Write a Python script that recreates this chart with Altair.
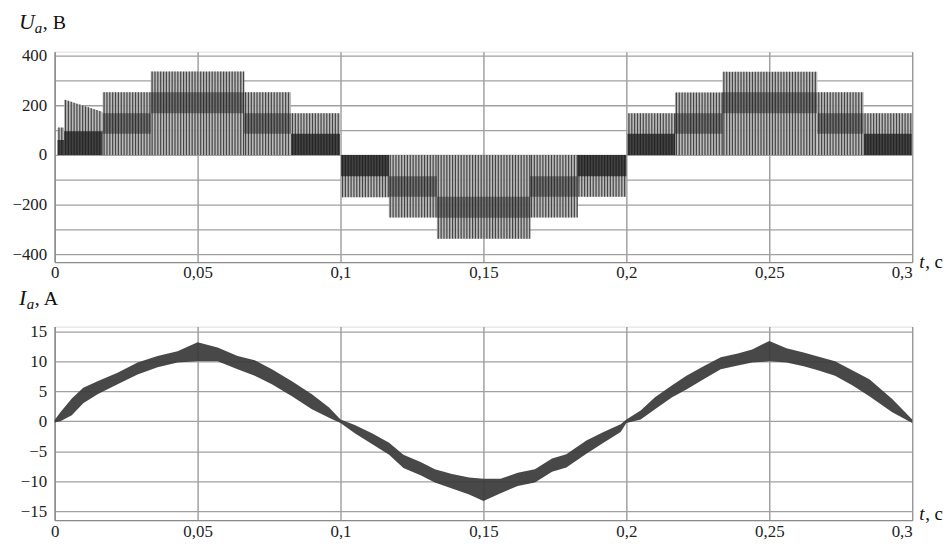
import altair as alt
import numpy as np
import pandas as pd

# ---------------- data ----------------
# Voltage U_a: PWM segments (start, end, upper level at start/end, dense switching band)
seg_t0 = [0.0010, 0.0033, 0.0168, 0.0336, 0.0663, 0.0827, 0.1002, 0.1169, 0.1337, 0.1663, 0.1829,
          0.2004, 0.2170, 0.2336, 0.2668, 0.2830]
seg_t1 = [0.0033, 0.0168, 0.0336, 0.0663, 0.0827, 0.0998, 0.1169, 0.1337, 0.1663, 0.1829, 0.2000,
          0.2170, 0.2336, 0.2668, 0.2830, 0.2998]
seg_top_a = [110, 223, 252, 335, 252, 168, -170, -251, -336, -251, -168, 168, 251, 334, 252, 168]
seg_top_b = [110, 173, 252, 335, 252, 168, -170, -251, -336, -251, -168, 168, 251, 334, 252, 168]
band_a = [0, 0, 85, 168, 85, 0, 0, -85, -168, -85, 0, 0, 85, 168, 85, 0]
band_b = [60, 95, 168, 252, 168, 85, -85, -168, -252, -168, -85, 85, 168, 252, 168, 85]
PULSE_PERIOD = 0.001  # carrier period read from the stripe spacing

# Current I_a: ripple envelope
i_t = [0.000, 0.002, 0.006, 0.010, 0.015, 0.022, 0.029, 0.036, 0.043, 0.050, 0.057, 0.064, 0.070,
       0.076, 0.083, 0.090, 0.096, 0.100,
       0.105, 0.111, 0.117, 0.122, 0.128, 0.133, 0.139, 0.145, 0.150, 0.156, 0.162, 0.168, 0.174,
       0.179, 0.186, 0.192, 0.198, 0.200,
       0.205, 0.210, 0.216, 0.221, 0.227, 0.233, 0.239, 0.244, 0.250, 0.256, 0.262, 0.267, 0.273,
       0.279, 0.285, 0.293, 0.300]
i_upper = [0.2, 1.5, 3.8, 5.6, 6.7, 8.1, 9.8, 10.9, 11.7, 13.2, 12.3, 10.9, 10.2,
           8.7, 6.7, 4.5, 2.3, 0.3,
           -0.6, -2.0, -3.6, -5.6, -6.8, -8.0, -8.8, -9.4, -9.6, -9.6, -8.6, -8.0, -6.2,
           -5.5, -3.2, -1.8, -0.5, 0.3,
           1.8, 4.0, 6.0, 7.6, 9.2, 10.7, 11.3, 12.0, 13.4, 12.2, 11.5, 10.8, 10.0,
           8.5, 7.0, 3.7, 0.3]
i_lower = [-0.2, 0.0, 1.0, 3.0, 4.5, 6.2, 7.8, 9.0, 9.8, 10.0, 10.0, 8.7, 7.6,
           6.2, 4.2, 2.0, 0.6, -0.3,
           -2.0, -3.8, -5.6, -7.8, -9.0, -10.2, -11.2, -12.2, -13.3, -12.0, -10.8, -10.2, -8.4,
           -7.7, -5.4, -3.6, -1.8, -0.3,
           0.3, 2.0, 4.0, 5.3, 7.0, 8.7, 9.3, 9.8, 10.0, 9.8, 9.2, 8.5, 7.6,
           6.0, 4.2, 1.5, -0.3]

x_ticks = [0, 0.05, 0.1, 0.15, 0.2, 0.25, 0.3]
u_ticks = [-400, -300, -200, -100, 0, 100, 200, 300, 400]
i_ticks = [-15, -10, -5, 0, 5, 10, 15]

# ---------------- tables ----------------
seg_df = pd.DataFrame({"seg": range(len(seg_t0)), "t0": seg_t0, "t1": seg_t1,
                       "ta": seg_top_a, "tb": seg_top_b, "ba": band_a, "bb": band_b})
env_rows = []
for s, a, b, ya, yb in zip(seg_df.seg, seg_t0, seg_t1, seg_top_a, seg_top_b):
    env_rows.append({"seg": int(s), "t": a, "u": ya})
    env_rows.append({"seg": int(s), "t": b, "u": yb})
env_df = pd.DataFrame(env_rows)

pulse_rows = []
for a, b, ya, yb in zip(seg_t0, seg_t1, seg_top_a, seg_top_b):
    for tt in np.arange(a + PULSE_PERIOD / 2, b, PULSE_PERIOD):
        pulse_rows.append({"t": float(tt), "u": float(ya + (yb - ya) * (tt - a) / (b - a))})
pulse_df = pd.DataFrame(pulse_rows)

cur_df = pd.DataFrame({"t": i_t, "hi": i_upper, "lo": i_lower})

# ---------------- styling ----------------
W = 864
H1, H2 = 212, 195
FONT = "Liberation Serif"
LBL = 17

xscale = alt.Scale(domain=[0, 0.3], nice=False, zero=False)
xaxis = alt.Axis(values=x_ticks, grid=True, ticks=False, title=None,
                 labelExpr="replace(format(datum.value, '.2~f'), '.', ',')",
                 labelAlign=alt.condition("datum.value > 0.29", alt.value("right"), alt.value("center")),
                 labelFont=FONT, labelFontSize=LBL, labelColor="#222", labelPadding=3,
                 gridColor="#8a8a8a", gridWidth=1.2, domainColor="#8a8a8a", domainWidth=1.2)

uscale = alt.Scale(domain=[-430, 415], nice=False, zero=False)
uaxis = alt.Axis(values=u_ticks, grid=True, ticks=False, title=None,
                 labelExpr="datum.value % 200 == 0 ? datum.label : ''",
                 labelFont=FONT, labelFontSize=LBL, labelColor="#222", labelPadding=8,
                 gridColor="#a0a0a0", gridWidth=1.3, domainColor="#8a8a8a", domainWidth=1.2)

iscale = alt.Scale(domain=[-16.5, 15.8], nice=False, zero=False)
iaxis = alt.Axis(values=i_ticks, grid=True, ticks=False, title=None,
                 labelFont=FONT, labelFontSize=LBL, labelColor="#222", labelPadding=8,
                 gridColor="#a0a0a0", gridWidth=1.3, domainColor="#8a8a8a", domainWidth=1.2)

one = pd.DataFrame({"k": [0]})


def label(txt, x, y, size, italic=False):
    return alt.Chart(one).mark_text(
        text=txt, font=FONT, fontSize=size, fontStyle="italic" if italic else "normal",
        align="left", baseline="alphabetic", color="#111"
    ).encode(x=alt.value(x), y=alt.value(y))


# ---------------- top panel: U_a ----------------
u_fill = alt.Chart(env_df).mark_area(color="#b4b4b4", opacity=0.9).encode(
    x=alt.X("t:Q", scale=xscale, axis=xaxis),
    y=alt.Y("u:Q", scale=uscale, axis=uaxis),
    y2=alt.datum(0),
    detail="seg:N",
)
u_pulses = alt.Chart(pulse_df).mark_rule(color="#444444", strokeWidth=1.2).encode(
    x=alt.X("t:Q", scale=xscale, axis=xaxis),
    y=alt.Y("u:Q", scale=uscale, axis=uaxis),
    y2=alt.datum(0),
)
u_bands = alt.Chart(seg_df).mark_rect(color="#1a1a1a").encode(
    x=alt.X("t0:Q", scale=xscale, axis=xaxis),
    x2="t1:Q",
    y=alt.Y("ba:Q", scale=uscale, axis=uaxis),
    y2="bb:Q",
    opacity=alt.condition("datum.ba == 0", alt.value(0.75), alt.value(0.45)),
)
top = alt.layer(
    u_fill, u_pulses, u_bands,
    label("U", -36, -23, 22, True),
    label("a", -20, -19, 15, True),
    label(", B", -12, -23, 20),
    label("t", 871, H1 + 6, 19, True),
    label(", c", 877, H1 + 6, 19),
).properties(width=W, height=H1)

# ---------------- bottom panel: I_a ----------------
i_band = alt.Chart(cur_df).mark_area(color="#383838", opacity=0.92).encode(
    x=alt.X("t:Q", scale=xscale, axis=xaxis),
    y=alt.Y("hi:Q", scale=iscale, axis=iaxis),
    y2="lo:Q",
)
bottom = alt.layer(
    i_band,
    label("I", -36, -22, 22, True),
    label("a", -28, -18, 15, True),
    label(", A", -20, -22, 20),
    label("t", 871, H2 + 0, 19, True),
    label(", c", 877, H2 + 0, 19),
).properties(width=W, height=H2)

chart = alt.vconcat(top, bottom, spacing=65, bounds="flush").properties(
    padding={"left": 3, "top": 0, "right": 0, "bottom": 0},
).configure_view(strokeWidth=0).configure(background="white")

chart.save("out.html", embed_options={"renderer": "svg", "actions": False})
